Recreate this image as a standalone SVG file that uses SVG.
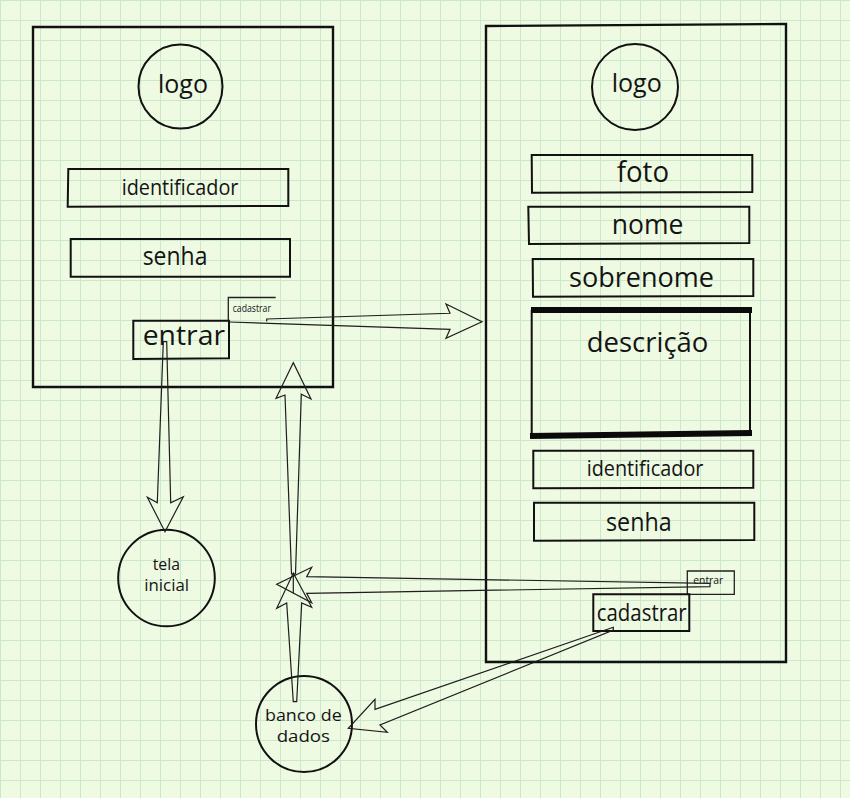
<svg xmlns="http://www.w3.org/2000/svg" width="850" height="798" viewBox="0 0 850 798">
  <defs>
    <pattern id="grid" width="20" height="20" patternUnits="userSpaceOnUse">
      <rect width="20" height="20" fill="#eefae2"/>
      <path d="M0.5 0V20M0 0.5H20" stroke="#cce8cb" stroke-width="1" fill="none"/>
    </pattern>
  </defs>
  <style>
    .frame { fill: none; stroke: #111; stroke-width: 2.4; }
    .box { fill: none; stroke: #111; stroke-width: 2; }
    .thin { fill: none; stroke: #222; stroke-width: 1.3; }
    .arrow { fill: none; stroke: #1e1e1e; stroke-width: 1.2; stroke-linejoin: miter; }
    .circ { fill: none; stroke: #111; stroke-width: 2; }
    text { font-family: "Open Sans", "Noto Sans", sans-serif; fill: #141414; }
  </style>

  <rect width="850" height="798" fill="url(#grid)"/>

  <!-- login screen -->
  <g id="login-screen">
    <path class="frame" d="M33 27H333V387H33Z"/>
  </g>
  <g id="login-logo">
    <circle class="circ" cx="180.5" cy="86.5" r="42"/>
    <text x="158" y="93" font-size="25" textLength="50" lengthAdjust="spacingAndGlyphs">logo</text>
  </g>
  <g id="login-identificador">
    <path class="box" d="M68.3 169H288.3V206L67.7 206.7Z"/>
    <text x="121.7" y="195" font-size="21" textLength="116.7" lengthAdjust="spacingAndGlyphs">identificador</text>
  </g>
  <g id="login-senha">
    <path class="box" d="M70.7 239H290V276.7H70.7Z"/>
    <text x="142.7" y="265" font-size="25" textLength="64.7" lengthAdjust="spacingAndGlyphs">senha</text>
  </g>
  <g id="login-entrar">
    <path class="box" d="M133.3 320.7H229V358.3L133.3 359Z"/>
    <text x="142.7" y="345" font-size="28" textLength="82.3" lengthAdjust="spacingAndGlyphs">entrar</text>
  </g>
  <g id="login-cadastrar">
    <polyline class="thin" points="228.3,322 228.3,297.5 275.7,297.5"/>
    <text x="232.7" y="311.7" font-size="10" textLength="38.3" lengthAdjust="spacingAndGlyphs">cadastrar</text>
  </g>

  <!-- sign-up screen -->
  <g id="signup-screen">
    <path class="frame" d="M486 26L786 24V662H486Z"/>
  </g>
  <g id="signup-logo">
    <circle class="circ" cx="635" cy="87" r="43"/>
    <text x="611.7" y="91.7" font-size="25" textLength="50" lengthAdjust="spacingAndGlyphs">logo</text>
  </g>
  <g id="signup-foto">
    <path class="box" d="M531.7 155H752.3V192L532 192.7Z"/>
    <text x="616.7" y="181.7" font-size="29" textLength="52.3" lengthAdjust="spacingAndGlyphs">foto</text>
  </g>
  <g id="signup-nome">
    <path class="box" d="M528.3 206.7L749.3 206.7V243L529 244Z"/>
    <text x="611.7" y="234.3" font-size="28" textLength="71.7" lengthAdjust="spacingAndGlyphs">nome</text>
  </g>
  <g id="signup-sobrenome">
    <path class="box" d="M532.7 259H753.3V296L533 296.7Z"/>
    <text x="569" y="286.7" font-size="27" textLength="145" lengthAdjust="spacingAndGlyphs">sobrenome</text>
  </g>
  <g id="signup-descricao">
    <path class="box" d="M531.7 310V436M750 310V434"/>
    <path fill="none" stroke="#0a0a0a" stroke-width="6" d="M531 310H752M530 436L752 433"/>
    <text x="586.7" y="352.3" font-size="27" textLength="121.7" lengthAdjust="spacingAndGlyphs">descrição</text>
  </g>
  <g id="signup-identificador">
    <path class="box" d="M533.3 450.7H753.3V487.7L533.3 488.3Z"/>
    <text x="586.7" y="476" font-size="21" textLength="116.7" lengthAdjust="spacingAndGlyphs">identificador</text>
  </g>
  <g id="signup-senha">
    <path class="box" d="M534 502.7H754.3V540L534 540.7Z"/>
    <text x="606" y="530.7" font-size="25" textLength="65.7" lengthAdjust="spacingAndGlyphs">senha</text>
  </g>
  <g id="signup-entrar">
    <path class="thin" d="M687.3 571H734.3V594.3H687.3Z"/>
    <text x="693.3" y="584.3" font-size="11" textLength="30" lengthAdjust="spacingAndGlyphs">entrar</text>
  </g>
  <g id="signup-cadastrar">
    <path class="box" d="M593.3 594.3H689.3V631H593.3Z"/>
    <text x="596.7" y="621" font-size="23" textLength="90" lengthAdjust="spacingAndGlyphs">cadastrar</text>
  </g>

  <!-- targets -->
  <g id="tela-inicial">
    <circle class="circ" cx="166.5" cy="578" r="48.3"/>
    <text x="152.7" y="570" font-size="16" textLength="27.3" lengthAdjust="spacingAndGlyphs">tela</text>
    <text x="144.3" y="591" font-size="16" textLength="44.7" lengthAdjust="spacingAndGlyphs">inicial</text>
  </g>
  <g id="banco-de-dados">
    <circle class="circ" cx="304" cy="724" r="48"/>
    <text x="265" y="721" font-size="17" textLength="76.7" lengthAdjust="spacingAndGlyphs">banco de</text>
    <text x="276.7" y="742" font-size="17" textLength="53.3" lengthAdjust="spacingAndGlyphs">dados</text>
  </g>

  <!-- connectors: outlined block arrows -->
  <g id="connectors">
    <!-- cadastrar (login) to sign-up screen -->
    <polyline class="arrow" points="266.7,321.5 266.7,319 450,313.3 446,304 482,321.7 446,338.3 450,329.3 229,322"/>
    <!-- entrar (login) to tela inicial -->
    <polygon class="arrow" points="163.3,341.7 166.7,341.7 170.7,502.7 183.3,496.7 165,531.7 147.3,497.3 157.3,502.7"/>
    <!-- up into login screen -->
    <polygon class="arrow" points="291.5,574 285,395 276,398.3 293.3,362.7 311,399 301.3,394.3 295.5,574"/>
    <!-- entrar (sign-up) to the left -->
    <polygon class="arrow" points="710,583.3 306.7,576.7 311.7,567.3 276.7,584.3 311.7,602.7 306.7,593.3 710,586.7"/>
    <!-- banco de dados upward -->
    <polygon class="arrow" points="293.3,701.7 286.7,603 276.7,608.3 293.3,573 311.7,607.3 301.7,603 296.7,701.7"/>
    <line class="arrow" x1="293.3" y1="573.3" x2="293.3" y2="593.3"/>
    <!-- cadastrar (sign-up) to banco de dados -->
    <polygon class="arrow" points="613.3,627.3 375,709.3 375,699.3 348.3,728.3 387.3,732.3 380,725 613.3,630"/>
  </g>
</svg>
